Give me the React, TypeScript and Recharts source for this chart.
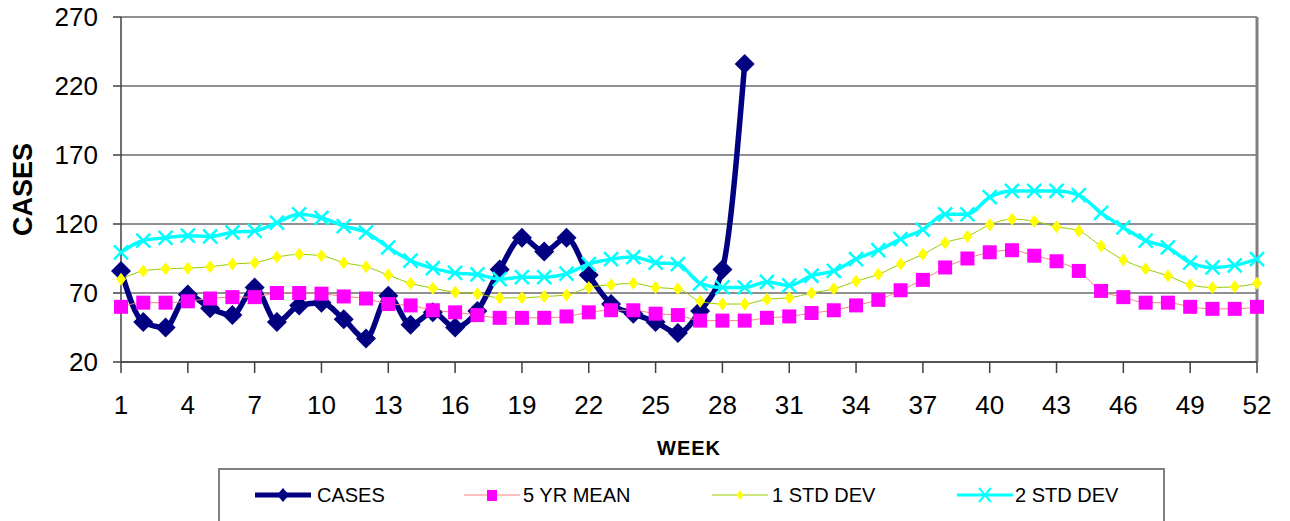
import React from 'react';
import { LineChart, Line, XAxis, YAxis, CartesianGrid, ReferenceLine } from 'recharts';

// weekly values
const weeks = Array.from({ length: 52 }, (_, i) => i + 1);

const cases = [
  86, 49, 45, 69, 59, 54, 74, 49, 61, 63, 51, 37, 68, 47, 56, 45, 57, 87, 110, 100,
  110, 83, 62, 55, 49, 41, 57, 87, 236,
];

const mean5 = [
  60, 63, 63, 64, 66, 67, 67, 70, 70, 69.5, 67.5, 66, 62, 61, 57.5, 56, 54, 52, 52, 52,
  53, 56, 57.5, 57.5, 55, 54, 50, 50, 50, 52, 53, 55.5, 57.5, 61, 65, 72, 79.5, 88.5, 95, 99.5,
  101, 97, 93, 86, 71.5, 67, 63, 63, 60, 58.5, 58.5, 60,
];

const std1 = [
  80, 86, 87.5, 88, 89, 91, 92, 96, 98, 97, 92, 89, 83, 77, 73.5, 70.5, 69.5, 66.5, 66.5, 67.5,
  68.5, 74, 76, 77, 74, 73, 64, 62, 62, 65.5, 66.5, 70, 73, 78.5, 83.5, 91, 98, 106.5, 111, 119.5,
  123.5, 122, 118, 115, 104, 94, 87.5, 82.5, 76, 74, 74.5, 77,
];

const std2 = [
  99.5, 108, 110, 111.5, 111, 114, 115, 121, 127, 124.5, 118.5, 114, 103, 93.5, 88, 84.5, 83.5, 80, 81.5, 81.5,
  84, 91, 94.5, 96, 92, 91, 77, 74, 74, 78, 75.5, 82.5, 86, 94.5, 101, 109, 116, 127, 127, 139.5,
  144, 144, 144, 141, 128, 117.5, 108, 103, 92, 88.5, 90, 94.5,
];

const xTicks = [1, 4, 7, 10, 13, 16, 19, 22, 25, 28, 31, 34, 37, 40, 43, 46, 49, 52];
const yTicks = [20, 70, 120, 170, 220, 270];

const data = weeks.map((w, i) => ({
  week: w,
  cases: i < cases.length ? cases[i] : null,
  mean5: mean5[i],
  std1: std1[i],
  std2: std2[i],
}));

const NAVY = '#000080';
const MAGENTA = '#FF00FF';
const YELLOW = '#FFFF00';
const CYAN = '#00FFFF';

const DiamondDot = (size: number, h: number, fill: string) => (props: any) => {
  const { cx, cy, index } = props;
  if (cx == null || cy == null || props.value == null) return null;
  return (
    <path
      key={`dd-${fill}-${index}`}
      d={`M${cx},${cy - h} L${cx + size},${cy} L${cx},${cy + h} L${cx - size},${cy} Z`}
      fill={fill}
      stroke="none"
    />
  );
};

const SquareDot = (props: any) => {
  const { cx, cy, index } = props;
  if (cx == null || cy == null) return null;
  return <rect key={`sq-${index}`} x={cx - 7} y={cy - 7} width={14} height={14} fill={MAGENTA} />;
};

const CrossDot = (props: any) => {
  const { cx, cy, index } = props;
  if (cx == null || cy == null) return null;
  const r = 7;
  return (
    <path
      key={`x-${index}`}
      d={`M${cx - r},${cy - r} L${cx + r},${cy + r} M${cx - r},${cy + r} L${cx + r},${cy - r}`}
      stroke={CYAN}
      strokeWidth={2.5}
    />
  );
};

const legendItems = [
  { name: 'CASES', left: 255, textLeft: 317 },
  { name: '5 YR MEAN', left: 464, textLeft: 523 },
  { name: '1 STD DEV', left: 712, textLeft: 772 },
  { name: '2 STD DEV', left: 957, textLeft: 1015 },
];

function LegendMarker({ name }: { name: string }) {
  const w = 56;
  const c = w / 2;
  if (name === 'CASES') {
    return (
      <svg width={w} height={16}>
        <line x1={0} y1={8} x2={w} y2={8} stroke={NAVY} strokeWidth={5} strokeLinecap="round" />
        <path d={`M${c},1 L${c + 6},8 L${c},15 L${c - 6},8 Z`} fill={NAVY} />
      </svg>
    );
  }
  if (name === '5 YR MEAN') {
    return (
      <svg width={w} height={16}>
        <line x1={0} y1={8} x2={w} y2={8} stroke="#FF8080" strokeWidth={1} />
        <rect x={c - 5} y={3} width={10} height={11} fill={MAGENTA} />
      </svg>
    );
  }
  if (name === '1 STD DEV') {
    return (
      <svg width={w} height={16}>
        <line x1={0} y1={8} x2={w} y2={8} stroke="#99CC00" strokeWidth={1} />
        <path d={`M${c},3 L${c + 3.5},8 L${c},13 L${c - 3.5},8 Z`} fill={YELLOW} />
      </svg>
    );
  }
  return (
    <svg width={w} height={16}>
      <line x1={0} y1={8} x2={w} y2={8} stroke={CYAN} strokeWidth={3} />
      <path d={`M${c - 6},1 L${c + 6},15 M${c - 6},15 L${c + 6},1`} stroke={CYAN} strokeWidth={2} />
    </svg>
  );
}

export default function App() {
  return (
    <div
      style={{
        position: 'absolute',
        left: 0,
        top: 0,
        width: 1290,
        height: 521,
        overflow: 'hidden',
        background: '#fff',
        fontFamily: '"Liberation Sans", Arial, sans-serif',
      }}
    >
      <LineChart width={1290} height={521} data={data} margin={{ top: 17, right: 33, left: 0, bottom: 0 }}>
        <CartesianGrid vertical={false} stroke="#6b6b6b" strokeWidth={1.5} />
        <XAxis
          dataKey="week"
          type="number"
          domain={[1, 52]}
          ticks={xTicks}
          height={159}
          tickSize={11}
          tickMargin={23}
          stroke="#404040"
          strokeWidth={1.5}
          tick={{ fontSize: 26, fill: '#000' }}
          label={{
            value: 'WEEK',
            position: 'insideTop',
            offset: 79,
            style: { fontWeight: 'bold', fontSize: 20, letterSpacing: 1, fill: '#000' },
          }}
        />
        <YAxis
          type="number"
          domain={[20, 270]}
          ticks={yTicks}
          width={121}
          tickSize={8}
          tickMargin={15}
          stroke="#404040"
          strokeWidth={1.5}
          tick={{ fontSize: 26, fill: '#000' }}
          label={{
            value: 'CASES',
            angle: -90,
            position: 'insideLeft',
            offset: 22,
            style: { textAnchor: 'middle', fontWeight: 'bold', fontSize: 27, fill: '#000' },
          }}
        />
        <ReferenceLine x={52} stroke="#808080" strokeWidth={3} />
        <Line
          dataKey="cases"
          type="monotone"
          stroke={NAVY}
          strokeWidth={5.5}
          dot={DiamondDot(10, 10, NAVY)}
          activeDot={false}
          isAnimationActive={false}
        />
        <Line
          dataKey="mean5"
          type="monotone"
          stroke="#FF8080"
          strokeWidth={1}
          dot={SquareDot}
          activeDot={false}
          isAnimationActive={false}
        />
        <Line
          dataKey="std1"
          type="monotone"
          stroke="#99CC00"
          strokeWidth={1}
          dot={DiamondDot(5, 6.5, YELLOW)}
          activeDot={false}
          isAnimationActive={false}
        />
        <Line
          dataKey="std2"
          type="monotone"
          stroke={CYAN}
          strokeWidth={3.5}
          dot={CrossDot}
          activeDot={false}
          isAnimationActive={false}
        />
      </LineChart>

      {/* legend box, its bottom edge falls outside the picture */}
      <div
        style={{
          position: 'absolute',
          left: 218,
          top: 468,
          width: 947,
          height: 80,
          border: '2px solid #808080',
          boxSizing: 'border-box',
        }}
      />
      {legendItems.map((item) => (
        <React.Fragment key={item.name}>
          <div style={{ position: 'absolute', left: item.left, top: 487, height: 16 }}>
            <LegendMarker name={item.name} />
          </div>
          <div
            style={{
              position: 'absolute',
              left: item.textLeft,
              top: 483,
              fontSize: 20,
              lineHeight: '24px',
              color: '#000',
              whiteSpace: 'nowrap',
            }}
          >
            {item.name}
          </div>
        </React.Fragment>
      ))}
    </div>
  );
}
